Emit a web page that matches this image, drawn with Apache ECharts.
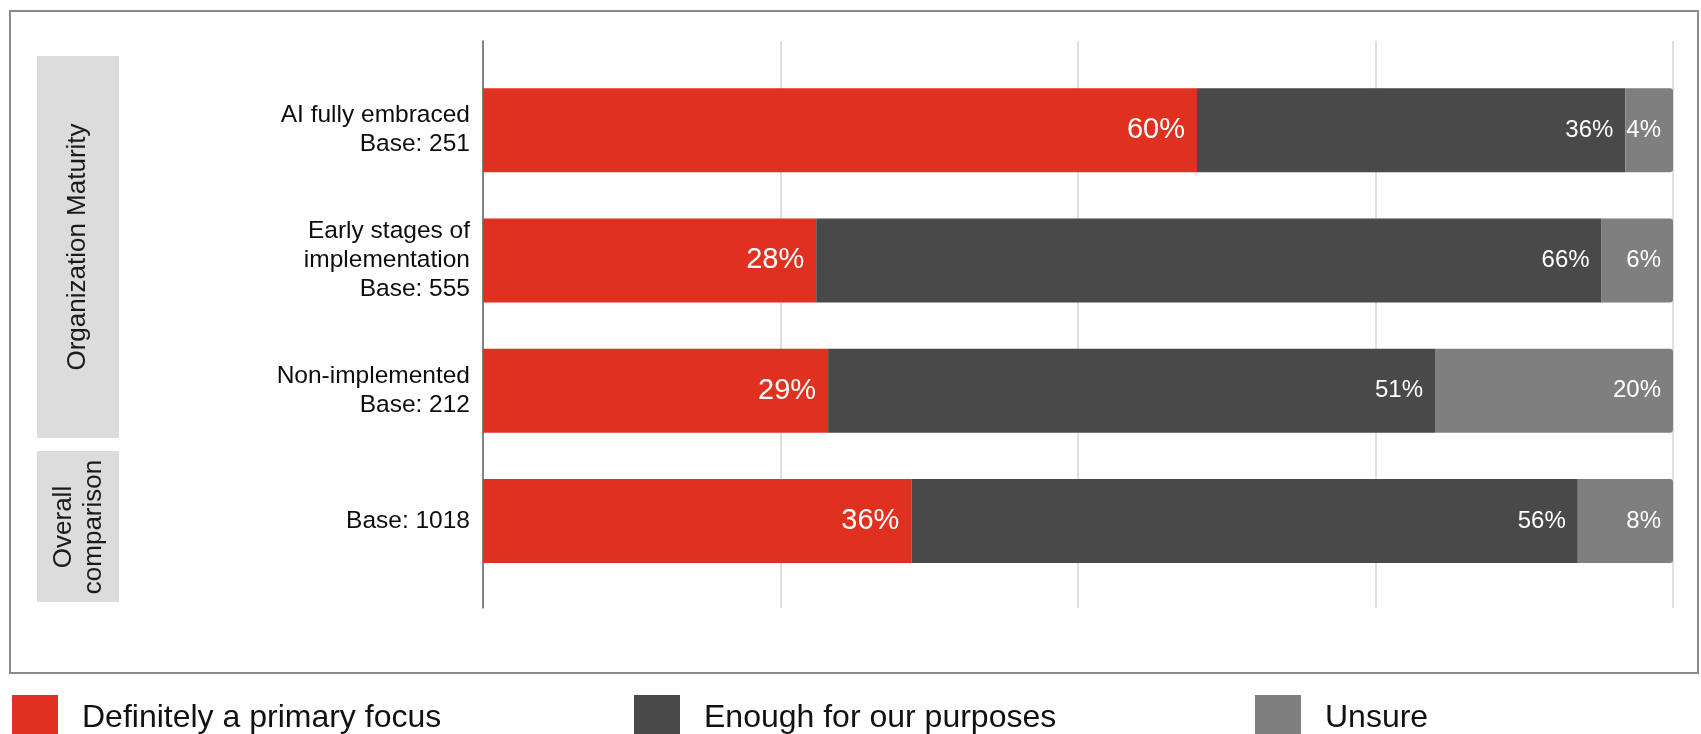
<!DOCTYPE html>
<html>
<head>
<meta charset="utf-8">
<script src="https://cdn.jsdelivr.net/npm/echarts@6/dist/echarts.min.js"></script>
<style>
  html, body { margin: 0; padding: 0; background: #ffffff; }
  #chart { width: 1701px; height: 734px; }
</style>
</head>
<body>
<div id="chart"></div>
<script>
// Row labels (top to bottom)
const categories = [
  'AI fully embraced\nBase: 251',
  'Early stages of\nimplementation\nBase: 555',
  'Non-implemented\nBase: 212',
  'Base: 1018'
];

// Series names and shares (%)
const seriesNames = ['Definitely a primary focus', 'Enough for our purposes', 'Unsure'];
const primaryFocus = [60, 28, 29, 36];
const enoughForPurposes = [36, 66, 51, 56];
const unsure = [4, 6, 20, 8];

// Group labels shown in the grey side panels
const groupLabels = ['Organization Maturity', 'Overall\ncomparison'];

// Percentage scale
const axisMin = 0;
const axisMax = 100;
const axisInterval = 25;

const FONT = "'Liberation Sans', Arial, Helvetica, sans-serif";
const COLORS = ['#E03120', '#494949', '#7F7F7F'];

const chart = echarts.init(document.getElementById('chart'), null, { renderer: 'canvas' });

const plotLeft = 483;
const plotRight = 28;

function barLabel(fontSize) {
  return {
    show: true,
    position: 'insideRight',
    distance: 12,
    formatter: '{c}%',
    color: '#ffffff',
    fontFamily: FONT,
    fontSize: fontSize
  };
}

function legendFor(i, left) {
  return {
    data: [seriesNames[i]],
    left: left,
    top: 695,
    padding: 0,
    icon: 'rect',
    itemWidth: 46,
    itemHeight: 46,
    selectedMode: false,
    textStyle: {
      fontFamily: FONT,
      fontSize: 32,
      color: '#111111',
      padding: [0, 0, 0, 19]
    }
  };
}

const option = {
  backgroundColor: '#ffffff',
  animation: false,
  color: COLORS,
  textStyle: { fontFamily: FONT },
  legend: [legendFor(0, 12), legendFor(1, 634), legendFor(2, 1255)],
  grid: [
    // bars
    { left: plotLeft, right: plotRight, top: 65, height: 521, containLabel: false },
    // vertical reference lines spanning the full plot height
    { left: plotLeft, right: plotRight, top: 41, bottom: 126, containLabel: false }
  ],
  xAxis: [
    {
      gridIndex: 0, type: 'value', min: axisMin, max: axisMax, interval: axisInterval,
      show: false
    },
    {
      gridIndex: 1, type: 'value', min: axisMin, max: axisMax, interval: axisInterval,
      axisLine: { show: false }, axisTick: { show: false }, axisLabel: { show: false },
      splitLine: { show: true, lineStyle: { color: '#d4d4d4', width: 1.5 } }
    }
  ],
  yAxis: [
    {
      gridIndex: 0, type: 'category', data: categories, inverse: true,
      axisLine: { show: false }, axisTick: { show: false }, splitLine: { show: false },
      axisLabel: {
        margin: 13,
        color: '#0d0d0d',
        fontFamily: FONT,
        fontSize: 24.5,
        lineHeight: 29,
        align: 'right'
      }
    },
    {
      gridIndex: 1, type: 'value', min: 0, max: 1,
      axisLine: { show: true, lineStyle: { color: '#666666', width: 1.5 } },
      axisTick: { show: false }, axisLabel: { show: false }, splitLine: { show: false }
    }
  ],
  series: [
    {
      name: seriesNames[0], type: 'bar', stack: 'total', xAxisIndex: 0, yAxisIndex: 0,
      data: primaryFocus, barWidth: 84,
      itemStyle: { color: COLORS[0] },
      label: barLabel(29)
    },
    {
      name: seriesNames[1], type: 'bar', stack: 'total', xAxisIndex: 0, yAxisIndex: 0,
      data: enoughForPurposes, barWidth: 84,
      itemStyle: { color: COLORS[1] },
      label: barLabel(24)
    },
    {
      name: seriesNames[2], type: 'bar', stack: 'total', xAxisIndex: 0, yAxisIndex: 0,
      data: unsure, barWidth: 84,
      itemStyle: { color: COLORS[2], borderRadius: [0, 3, 3, 0] },
      label: barLabel(24)
    }
  ],
  graphic: [
    // outer frame
    {
      type: 'rect', z: -10,
      shape: { x: 10, y: 11, width: 1688, height: 662 },
      style: { fill: 'none', stroke: '#8a8a8a', lineWidth: 2 }
    },
    // side panels
    {
      type: 'rect', z: -5,
      shape: { x: 37, y: 56, width: 82, height: 382 },
      style: { fill: '#dcdcdc' }
    },
    {
      type: 'rect', z: -5,
      shape: { x: 37, y: 451, width: 82, height: 151 },
      style: { fill: '#dcdcdc' }
    },
    {
      type: 'text', x: 78, y: 247, rotation: Math.PI / 2,
      style: {
        text: groupLabels[0], fontFamily: FONT, fontSize: 26, fill: '#1a1a1a',
        textAlign: 'center', textVerticalAlign: 'middle'
      }
    },
    {
      type: 'text', x: 79, y: 527, rotation: Math.PI / 2,
      style: {
        text: groupLabels[1], fontFamily: FONT, fontSize: 26, lineHeight: 30, fill: '#1a1a1a',
        textAlign: 'center', textVerticalAlign: 'middle'
      }
    }
  ]
};

chart.setOption(option);
</script>
</body>
</html>
